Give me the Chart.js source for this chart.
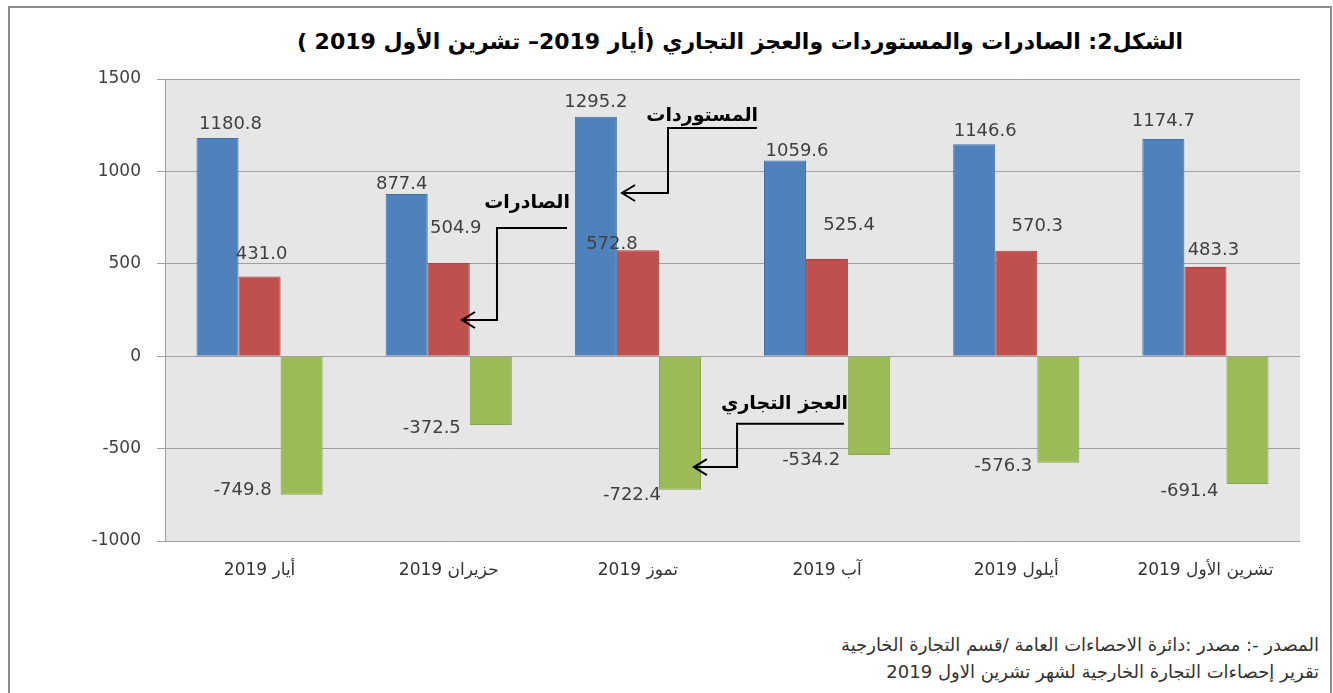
<!DOCTYPE html>
<html>
<head>
<meta charset="utf-8">
<script src="https://cdn.jsdelivr.net/npm/chart.js@4"></script>
<style>
  body {margin: 0; background: #fff; font-family: "DejaVu Sans", sans-serif;}
  #frame {position: absolute; left: 8px; top: 6px; width: 1320px; height: 686px;
          border: 2px solid #8c8c8c; border-bottom: 1px solid #e0e0e0;}
  #wrap {position: absolute; left: 0; top: 0; width: 1333px; height: 600px;}
  #title {position: absolute; left: 240px; width: 1000px; top: 29px; text-align: center;
          font-weight: bold; font-size: 22px; color: #000;}
  #source {position: absolute; right: 14px; top: 631px; text-align: right;
           font-size: 18px; line-height: 27px; color: #333;}
</style>
</head>
<body>
<div id="frame"></div>
<div id="title" dir="rtl">الشكل2: الصادرات والمستوردات والعجز التجاري (أيار 2019– تشرين الأول 2019 )</div>
<div id="wrap"><canvas id="chart"></canvas></div>
<div id="source" dir="rtl">المصدر -: مصدر :دائرة الاحصاءات العامة /قسم التجارة الخارجية<br>تقرير إحصاءات التجارة الخارجية لشهر تشرين الاول 2019</div>
<script>
const months = ['أيار 2019', 'حزيران 2019', 'تموز 2019', 'آب 2019', 'أيلول 2019', 'تشرين الأول 2019'];
const imports = [1180.8, 877.4, 1295.2, 1059.6, 1146.6, 1174.7];
const exportsVals = [431.0, 504.9, 572.8, 525.4, 570.3, 483.3];
const deficit = [-749.8, -372.5, -722.4, -534.2, -576.3, -691.4];

// label nudges in px, relative to the bar end (they were moved by hand in the original)
const nudges = [
  {dx: [13, -5, 0, 12, 11, 0], dy: [-14, -10, -15, -9, -13, -18]},
  {dx: [2, 7, -26, 22, 21, 8], dy: [-22, -35, -6, -34, -24, -17]},
  {dx: [-59, -59, -48, -58, -55, -58], dy: [-4, 3, 6, 5, 4, 7]}
];

// callouts, given in category index / value units
const callouts = [
  {text: 'المستوردات', at: [2.635, 1300], path: [[2.629, 1235], [2.159, 1235], [2.159, 883], [1.916, 883]]},
  {text: 'الصادرات', at: [1.641, 829], path: [[1.625, 694], [1.255, 694], [1.255, 196], [1.070, 196]]},
  {text: 'العجز التجاري', at: [3.111, -259], path: [[3.089, -366], [2.524, -366], [2.524, -600], [2.296, -600]]}
];

const plotBg = {
  id: 'plotBg',
  beforeDraw(chart) {
    const a = chart.chartArea, ctx = chart.ctx;
    ctx.save();
    ctx.fillStyle = '#e6e6e6';
    ctx.fillRect(a.left, a.top, a.right - a.left, a.bottom - a.top);
    ctx.restore();
  }
};

const valueLabels = {
  id: 'valueLabels',
  afterDatasetsDraw(chart) {
    const ctx = chart.ctx;
    ctx.save();
    ctx.font = '18px "DejaVu Sans"';
    ctx.fillStyle = '#404040';
    ctx.textAlign = 'center';
    ctx.textBaseline = 'middle';
    chart.data.datasets.forEach((ds, d) => {
      chart.getDatasetMeta(d).data.forEach((bar, i) => {
        ctx.fillText(ds.data[i].toFixed(1), bar.x + nudges[d].dx[i], bar.y + nudges[d].dy[i]);
      });
    });
    ctx.restore();
  }
};

const arrows = {
  id: 'arrows',
  afterDatasetsDraw(chart) {
    const ctx = chart.ctx, x = chart.scales.x, y = chart.scales.y;
    ctx.save();
    ctx.strokeStyle = '#000';
    ctx.lineWidth = 2;
    ctx.fillStyle = '#000';
    ctx.font = 'bold 19px "DejaVu Sans"';
    ctx.direction = 'rtl';
    ctx.textAlign = 'right';
    ctx.textBaseline = 'middle';
    callouts.forEach(c => {
      ctx.fillText(c.text, x.getPixelForValue(c.at[0]), y.getPixelForValue(c.at[1]));
      const pts = c.path.map(p => [x.getPixelForValue(p[0]), y.getPixelForValue(p[1])]);
      ctx.beginPath();
      ctx.moveTo(pts[0][0], pts[0][1]);
      for (let i = 1; i < pts.length; i++) ctx.lineTo(pts[i][0], pts[i][1]);
      const tip = pts[pts.length - 1];
      ctx.moveTo(tip[0] + 13, tip[1] - 8);
      ctx.lineTo(tip[0], tip[1]);
      ctx.lineTo(tip[0] + 13, tip[1] + 8);
      ctx.stroke();
    });
    ctx.restore();
  }
};

new Chart(document.getElementById('chart'), {
  type: 'bar',
  data: {
    labels: months,
    datasets: [
      {label: 'المستوردات', data: imports, backgroundColor: '#4f81bd', borderColor: '#416fa6', borderWidth: 1},
      {label: 'الصادرات', data: exportsVals, backgroundColor: '#c0504d', borderColor: '#a84441', borderWidth: 1},
      {label: 'العجز التجاري', data: deficit, backgroundColor: '#9bbb59', borderColor: '#87a54a', borderWidth: 1}
    ]
  },
  options: {
    responsive: true,
    maintainAspectRatio: false,
    animation: false,
    layout: {padding: {left: 0, top: 79, right: 33, bottom: 0}},
    datasets: {bar: {categoryPercentage: 0.667, barPercentage: 1.0}},
    plugins: {legend: {display: false}, title: {display: false}, tooltip: {enabled: false}},
    scales: {
      x: {
        grid: {display: false, drawTicks: false},
        border: {display: false},
        ticks: {
          color: '#333',
          font: {family: '"DejaVu Sans"', size: 17},
          padding: 19,
          maxRotation: 0,
          callback: function(v, i) { return '\u202B' + months[i] + '\u202C'; }
        },
        afterFit: s => { s.height = 59; }
      },
      y: {
        min: -1000,
        max: 1500,
        grid: {color: '#a0a0a0', lineWidth: 1, tickLength: 8, tickColor: '#a0a0a0'},
        border: {color: '#a0a0a0', width: 1},
        ticks: {
          stepSize: 500,
          color: '#404040',
          font: {family: '"DejaVu Sans"', size: 17},
          padding: 16,
          callback: v => String(v)
        },
        afterFit: s => { s.width = 165; }
      }
    }
  },
  plugins: [plotBg, valueLabels, arrows]
});
</script>
</body>
</html>
